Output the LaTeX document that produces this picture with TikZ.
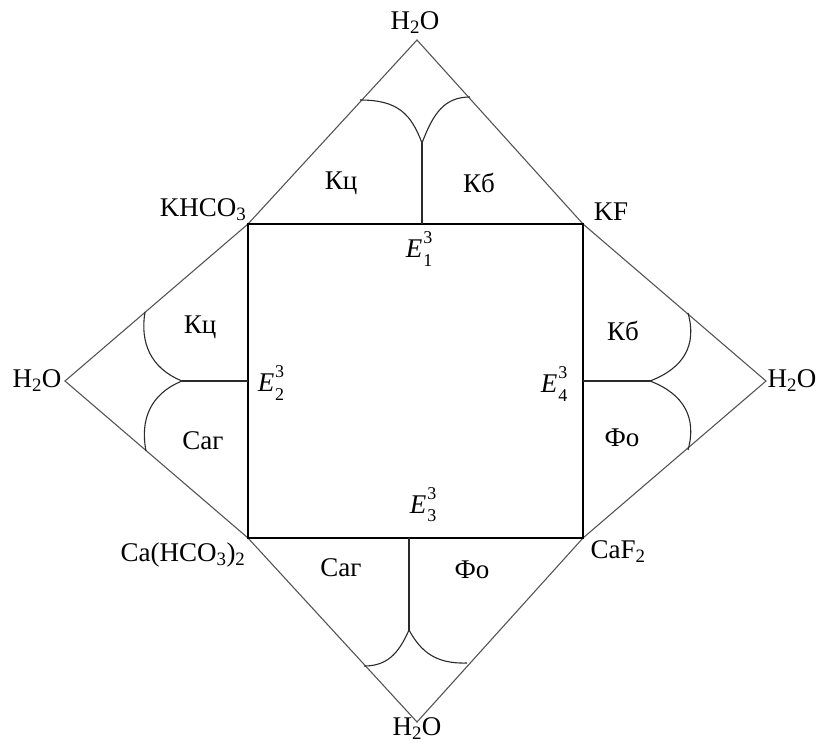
\documentclass[tikz,border=0pt]{standalone}
\usepackage{fontspec}
\setmainfont{Liberation Serif}
\usetikzlibrary{positioning,calc}
\definecolor{dgedge}{HTML}{555555}
\definecolor{dgcurve}{HTML}{2A2A2A}
\tikzset{
  lbl/.style={font=\fontsize{27}{31}\selectfont, inner sep=0pt},
  rim/.style={draw=dgedge, line width=1.1pt, line join=miter},
  sq/.style={draw=black, line width=1.4pt},
  bnd/.style={draw=dgcurve, line width=1.1pt},
}
\newcommand{\eut}[1]{\textit{E}\kern1pt\raisebox{0.5em}{\makebox[0pt][l]{\fontsize{18}{18}\selectfont 3}}\raisebox{-0.32em}{\fontsize{18}{18}\selectfont #1}}

\begin{document}
\begin{tikzpicture}[x=1pt, y=-1pt]
  \useasboundingbox (0,0) rectangle (819,744);
  % vertices of the diagram
  \coordinate (T) at (417,40);
  \coordinate (L) at (65,381);
  \coordinate (R) at (766,381);
  \coordinate (B) at (417,722);
  \coordinate (kh) at (248,224);
  \coordinate (kf) at (583,224);
  \coordinate (cf) at (583,538);
  \coordinate (ch) at (248,538);
  % eutectic points and cusps
  \coordinate (e1) at (422,224);
  \coordinate (e2) at (248,381);
  \coordinate (e3) at (409,538);
  \coordinate (e4) at (583,381);
  \coordinate (c1) at (422,143);
  \coordinate (c2) at (182,381);
  \coordinate (c3) at (409,630);
  \coordinate (c4) at (650,381);

  \draw[rim] (T) -- (kf) -- (R) -- (cf) -- (B) -- (ch) -- (L) -- (kh) -- cycle;
  \draw[sq] (kh) -- (kf) -- (cf) -- (ch) -- cycle;

  % fields boundaries
  \draw[bnd] (e1) -- (c1);
  \draw[bnd] (c1) .. controls (411,114) and (398,100) .. (360,100);
  \draw[bnd] (c1) .. controls (433,114) and (444,97) .. (470,97);
  \draw[bnd] (e2) -- (c2);
  \draw[bnd] (c2) .. controls (150,368) and (140,342) .. (145,312);
  \draw[bnd] (c2) .. controls (150,394) and (140,420) .. (146,451);
  \draw[bnd] (e3) -- (c3);
  \draw[bnd] (c3) .. controls (398,655) and (386,666) .. (364,666);
  \draw[bnd] (c3) .. controls (421,652) and (436,664) .. (467,663);
  \draw[bnd] (e4) -- (c4);
  \draw[bnd] (c4) .. controls (684,368) and (697,345) .. (688,313);
  \draw[bnd] (c4) .. controls (684,394) and (697,418) .. (688,450);

  % salts and water
  \node[lbl] (wT) at (415,23) {H\textsubscript{2}O};
  \node[lbl] (wL) at (37,381) {H\textsubscript{2}O};
  \node[lbl] (wR) at (792,381) {H\textsubscript{2}O};
  \node[lbl] (wB) at (417,729) {H\textsubscript{2}O};
  \node[lbl] (khco) at (203,210) {KHCO\textsubscript{3}};
  \node[lbl] (kfl) at (611,212) {KF};
  \node[lbl] (cahco) at (183,555) {Ca(HCO\textsubscript{3})\textsubscript{2}};
  \node[lbl] (caf) at (618,552) {CaF\textsubscript{2}};

  % crystallization fields
  \node[lbl] (kcT) at (341,183) {Кц};
  \node[lbl] (kbT) at (479,183) {Кб};
  \node[lbl] (kcL) at (200,327) {Кц};
  \node[lbl] (sgL) at (203,441) {Саг};
  \node[lbl] (kbR) at (623,331) {Кб};
  \node[lbl] (foR) at (622,438) {Фо};
  \node[lbl] (sgB) at (341,568) {Саг};
  \node[lbl] (foB) at (472,570) {Фо};

  % points
  \node[lbl] (E1) at (419,249) {\eut{1}};
  \node[lbl] (E2) at (271,383) {\eut{2}};
  \node[lbl] (E3) at (423,505) {\eut{3}};
  \node[lbl] (E4) at (554,384) {\eut{4}};
\end{tikzpicture}
\end{document}
